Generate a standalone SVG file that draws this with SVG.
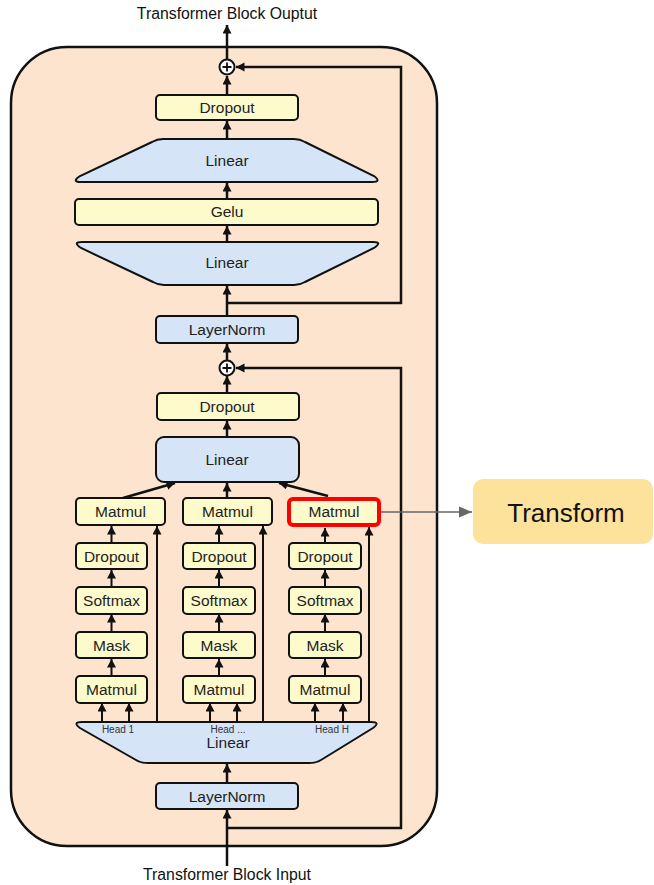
<svg xmlns="http://www.w3.org/2000/svg" width="654" height="885" viewBox="0 0 654 885">
  <defs>
    <marker id="arr" markerUnits="userSpaceOnUse" markerWidth="10" markerHeight="10" refX="8.5" refY="4.5" orient="auto">
      <path d="M0,0 L8.5,4.5 L0,9 z" fill="#111"/>
    </marker>
    <marker id="arrGray" markerUnits="userSpaceOnUse" markerWidth="14" markerHeight="12" refX="13" refY="6" orient="auto">
      <path d="M0,0.5 L13,6 L0,11.5 z" fill="#666"/>
    </marker>
    <style>
      .lbl { font-family: "Liberation Sans", Arial, sans-serif; font-size: 15.5px; fill: #222; text-anchor: middle; }
      .title { font-family: "Liberation Sans", Arial, sans-serif; font-size: 15.8px; fill: #111; text-anchor: middle; }
      .head { font-family: "Liberation Sans", Arial, sans-serif; font-size: 10px; fill: #333; text-anchor: middle; }
      .yel { fill: #FDFBCC; stroke: #111; stroke-width: 2; }
      .blu { fill: #D6E4F7; stroke: #111; stroke-width: 2; }
      .wire { fill: none; stroke: #111; stroke-width: 2.5; }
      .thin { fill: none; stroke: #111; stroke-width: 2; }
    </style>
  </defs>

  <rect width="654" height="885" fill="#ffffff"/>

  <!-- transformer block container -->
  <rect id="block" x="11" y="47" width="426" height="799" rx="56" ry="56" fill="#FCE4CF" stroke="#111" stroke-width="2.5"/>

  <!-- titles -->
  <text class="title" x="227" y="19">Transformer Block Ouptut</text>
  <text class="title" x="227" y="880">Transformer Block Input</text>

  <!-- connectors -->
  <g id="connectors">
    <!-- input path and first residual -->
    <line class="wire" x1="227" y1="866" x2="227" y2="810" marker-end="url(#arr)"/>
    <polyline class="wire" points="227,828 401,828 401,368 236,368" marker-end="url(#arr)"/>
    <line class="wire" x1="227" y1="783" x2="227" y2="764" marker-end="url(#arr)"/>

    <!-- heads: projection to per-head ops -->
    <line class="thin" x1="102" y1="722" x2="102" y2="703" marker-end="url(#arr)"/>
    <line class="thin" x1="129" y1="722" x2="129" y2="703" marker-end="url(#arr)"/>
    <line class="thin" x1="210" y1="722" x2="210" y2="703" marker-end="url(#arr)"/>
    <line class="thin" x1="237" y1="722" x2="237" y2="703" marker-end="url(#arr)"/>
    <line class="thin" x1="315" y1="722" x2="315" y2="703" marker-end="url(#arr)"/>
    <line class="thin" x1="343" y1="722" x2="343" y2="703" marker-end="url(#arr)"/>
    <line class="thin" x1="157" y1="722" x2="157" y2="526" marker-end="url(#arr)"/>
    <line class="thin" x1="263" y1="722" x2="263" y2="526" marker-end="url(#arr)"/>
    <line class="thin" x1="369" y1="722" x2="369" y2="527" marker-end="url(#arr)"/>

    <!-- per-head chains -->
    <line class="thin" x1="111.5" y1="676" x2="111.5" y2="659" marker-end="url(#arr)"/>
    <line class="thin" x1="111.5" y1="632" x2="111.5" y2="614" marker-end="url(#arr)"/>
    <line class="thin" x1="111.5" y1="587" x2="111.5" y2="570" marker-end="url(#arr)"/>
    <line class="thin" x1="111.5" y1="543" x2="111.5" y2="526" marker-end="url(#arr)"/>
    <line class="thin" x1="219" y1="676" x2="219" y2="659" marker-end="url(#arr)"/>
    <line class="thin" x1="219" y1="632" x2="219" y2="614" marker-end="url(#arr)"/>
    <line class="thin" x1="219" y1="587" x2="219" y2="570" marker-end="url(#arr)"/>
    <line class="thin" x1="219" y1="543" x2="219" y2="526" marker-end="url(#arr)"/>
    <line class="thin" x1="325" y1="676" x2="325" y2="659" marker-end="url(#arr)"/>
    <line class="thin" x1="325" y1="632" x2="325" y2="614" marker-end="url(#arr)"/>
    <line class="thin" x1="325" y1="587" x2="325" y2="570" marker-end="url(#arr)"/>
    <line class="thin" x1="325" y1="543" x2="325" y2="528" marker-end="url(#arr)"/>

    <!-- heads into output projection -->
    <line class="wire" x1="123" y1="498" x2="175" y2="483" marker-end="url(#arr)"/>
    <line class="wire" x1="227" y1="498" x2="227" y2="483" marker-end="url(#arr)"/>
    <line class="wire" x1="328" y1="496" x2="279" y2="483" marker-end="url(#arr)"/>

    <!-- attention output to residual add -->
    <line class="wire" x1="227" y1="437" x2="227" y2="421" marker-end="url(#arr)"/>
    <line class="wire" x1="227" y1="393" x2="227" y2="376" marker-end="url(#arr)"/>
    <line class="wire" x1="227" y1="360" x2="227" y2="344" marker-end="url(#arr)"/>

    <!-- MLP path and second residual -->
    <line class="wire" x1="227" y1="316" x2="227" y2="286" marker-end="url(#arr)"/>
    <polyline class="wire" points="227,303 401,303 401,67 236,67" marker-end="url(#arr)"/>
    <line class="wire" x1="227" y1="242" x2="227" y2="226" marker-end="url(#arr)"/>
    <line class="wire" x1="227" y1="199" x2="227" y2="183" marker-end="url(#arr)"/>
    <line class="wire" x1="227" y1="139" x2="227" y2="121" marker-end="url(#arr)"/>
    <line class="wire" x1="227" y1="95" x2="227" y2="76" marker-end="url(#arr)"/>
    <line class="wire" x1="227" y1="59" x2="227" y2="25" marker-end="url(#arr)"/>

    <!-- highlight callout -->
    <line x1="381" y1="512" x2="472" y2="512" stroke="#666" stroke-width="1.6" marker-end="url(#arrGray)"/>
  </g>

  <!-- MLP -->
  <g id="add2">
    <circle cx="227" cy="67" r="7.5" fill="#fff" stroke="#111" stroke-width="2"/>
    <path d="M222.5,67 H231.5 M227,62.5 V71.5" stroke="#111" stroke-width="1.8"/>
  </g>
  <g id="dropout2">
    <rect class="yel" x="156" y="95" width="142" height="25" rx="4"/>
    <text class="lbl" x="227" y="113">Dropout</text>
  </g>
  <g id="linear-up">
    <path class="blu" d="M163,139 H294 Q300,139 305,142 L374,176 Q382,182 372,182 H81 Q71,182 80,176 L152,142 Q157,139 163,139 Z"/>
    <text class="lbl" x="227" y="166">Linear</text>
  </g>
  <g id="gelu">
    <rect class="yel" x="75" y="199" width="303" height="26" rx="4"/>
    <text class="lbl" x="227" y="217">Gelu</text>
  </g>
  <g id="linear-in">
    <path class="blu" d="M82,242 H373 Q383,242 374,248 L305,282 Q300,285 294,285 H164 Q158,285 153,282 L81,248 Q72,242 82,242 Z"/>
    <text class="lbl" x="227" y="268">Linear</text>
  </g>
  <g id="layernorm2">
    <rect class="blu" x="156" y="316" width="142" height="27" rx="4"/>
    <text class="lbl" x="227" y="335">LayerNorm</text>
  </g>

  <!-- attention -->
  <g id="add1">
    <circle cx="227" cy="368" r="7.5" fill="#fff" stroke="#111" stroke-width="2"/>
    <path d="M222.5,368 H231.5 M227,363.5 V372.5" stroke="#111" stroke-width="1.8"/>
  </g>
  <g id="dropout1">
    <rect class="yel" x="157" y="393" width="142" height="27" rx="4"/>
    <text class="lbl" x="227" y="412">Dropout</text>
  </g>
  <g id="linear-out">
    <rect class="blu" x="156" y="437" width="143" height="45" rx="8"/>
    <text class="lbl" x="227" y="465">Linear</text>
  </g>

  <g id="head1">
    <rect class="yel" x="76" y="498" width="89" height="27" rx="4"/>
    <text class="lbl" x="120.5" y="517">Matmul</text>
    <rect class="yel" x="76" y="543" width="71" height="26" rx="4"/>
    <text class="lbl" x="111.5" y="561.5">Dropout</text>
    <rect class="yel" x="76" y="587" width="71" height="27" rx="4"/>
    <text class="lbl" x="111.5" y="606">Softmax</text>
    <rect class="yel" x="76" y="632" width="71" height="26" rx="4"/>
    <text class="lbl" x="111.5" y="650.5">Mask</text>
    <rect class="yel" x="76" y="676" width="71" height="27" rx="4"/>
    <text class="lbl" x="111.5" y="695">Matmul</text>
  </g>
  <g id="head2">
    <rect class="yel" x="183" y="498" width="89" height="27" rx="4"/>
    <text class="lbl" x="227.5" y="517">Matmul</text>
    <rect class="yel" x="183" y="543" width="72" height="26" rx="4"/>
    <text class="lbl" x="219" y="561.5">Dropout</text>
    <rect class="yel" x="183" y="587" width="72" height="27" rx="4"/>
    <text class="lbl" x="219" y="606">Softmax</text>
    <rect class="yel" x="183" y="632" width="72" height="26" rx="4"/>
    <text class="lbl" x="219" y="650.5">Mask</text>
    <rect class="yel" x="183" y="676" width="72" height="27" rx="4"/>
    <text class="lbl" x="219" y="695">Matmul</text>
  </g>
  <g id="headH">
    <rect x="289" y="499" width="90" height="26" rx="4" fill="#FDFBCC" stroke="#FF0000" stroke-width="4"/>
    <text class="lbl" x="334" y="517">Matmul</text>
    <rect class="yel" x="289" y="543" width="72" height="26" rx="4"/>
    <text class="lbl" x="325" y="561.5">Dropout</text>
    <rect class="yel" x="289" y="587" width="72" height="27" rx="4"/>
    <text class="lbl" x="325" y="606">Softmax</text>
    <rect class="yel" x="289" y="632" width="72" height="26" rx="4"/>
    <text class="lbl" x="325" y="650.5">Mask</text>
    <rect class="yel" x="289" y="676" width="72" height="27" rx="4"/>
    <text class="lbl" x="325" y="695">Matmul</text>
  </g>

  <g id="linear-qkv">
    <path class="blu" d="M82,722 H371 Q381,722 373,728 L321,760 Q316,763 309,763 H148 Q141,763 136,760 L80,728 Q72,722 82,722 Z"/>
    <text class="head" x="118" y="732.5">Head 1</text>
    <text class="head" x="228" y="732.5">Head ...</text>
    <text class="head" x="332" y="732.5">Head H</text>
    <text class="lbl" x="228" y="748">Linear</text>
  </g>
  <g id="layernorm1">
    <rect class="blu" x="156" y="783" width="142" height="26" rx="4"/>
    <text class="lbl" x="227" y="801.5">LayerNorm</text>
  </g>

  <g id="transform">
    <rect x="473" y="479" width="180" height="65" rx="10" fill="#FDE29B"/>
    <text x="566" y="522" font-family="'Liberation Sans', Arial, sans-serif" font-size="26" fill="#111" text-anchor="middle">Transform</text>
  </g>
</svg>
